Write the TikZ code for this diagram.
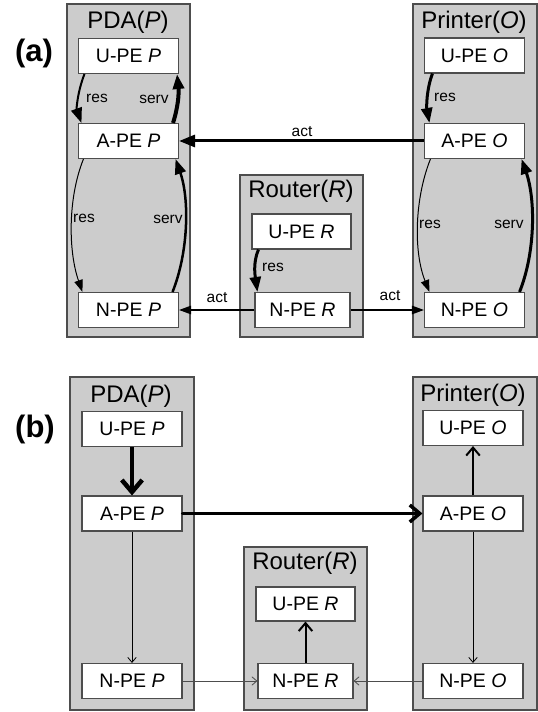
\documentclass[tikz,border=0pt]{standalone}
\usepackage{fontspec}
\setmainfont{Liberation Sans}
\usetikzlibrary{arrows.meta}
\definecolor{boxgray}{RGB}{204,204,204}
\definecolor{edgegray}{RGB}{77,77,77}
\begin{document}
\begin{tikzpicture}[x=1pt,y=1pt,
  container/.style={draw=edgegray, fill=boxgray, line width=1.3pt, inner sep=0pt, rectangle},
  pe/.style={draw=edgegray, fill=white, line width=1.1pt, minimum width=100pt, minimum height=35pt, inner sep=0pt, font=\fontsize{19.5}{22}\selectfont},
  ttl/.style={font=\fontsize{24}{28}\selectfont, inner sep=0pt},
  lbl/.style={font=\fontsize{15.5}{18}\selectfont, inner sep=0pt},
  panel/.style={font=\fontsize{31}{36}\selectfont\bfseries, inner sep=0pt},
  bigtri/.style={-{Triangle[length=15pt,width=11pt]}},
  smalltri/.style={-{Triangle[length=12pt,width=8.5pt]}},
  barb/.style={-{Straight Barb[length=#1,width=1.7*#1]}}
]
\useasboundingbox (0,0) rectangle (538,712);

% ---------------- panel (a) ----------------
\node[panel] (la) at (34,659) {(a)};
\node[container, minimum width=123pt, minimum height=333pt] (PDAa) at (128.5,541.5) {};
\node[container, minimum width=124pt, minimum height=333pt] (PRNa) at (475,541.5) {};
\node[container, minimum width=123pt, minimum height=162pt] (RTRa) at (301.5,456) {};

\node[ttl] (tPDAa) at (128,690) {PDA(\textit{P})};
\node[ttl] (tPRNa) at (474,690) {Printer(\textit{O})};
\node[ttl] (tRTRa) at (301,521) {Router(\textit{R})};

\node[pe] (UPa) at (128.5,656) {U-PE \textit{P}};
\node[pe] (APa) at (128.5,571) {A-PE \textit{P}};
\node[pe] (NPa) at (128.5,402) {N-PE \textit{P}};
\node[pe] (UOa) at (474.5,656.5) {U-PE \textit{O}};
\node[pe] (AOa) at (474.5,571) {A-PE \textit{O}};
\node[pe] (NOa) at (474.5,402) {N-PE \textit{O}};
\node[pe, minimum width=99pt] (URa) at (301.5,480.5) {U-PE \textit{R}};
\node[pe, minimum width=95pt] (NRa) at (302.5,402) {N-PE \textit{R}};

% PDA internal
\draw[line width=2pt, bigtri] ([xshift=6.5pt]UPa.south west) .. controls +(-7,-18) and +(-5,14) .. ([xshift=3.5pt]APa.north west);
\draw[line width=4pt, bigtri] ([xshift=-6pt]APa.north east) .. controls +(5,16) and +(2,-20) .. ([xshift=-2pt]UPa.south east);
\draw[line width=1pt, smalltri] ([xshift=5.5pt]APa.south west) .. controls +(-16,-40) and +(-14,40) .. ([xshift=4.5pt]NPa.north west);
\draw[line width=2.5pt, bigtri] ([xshift=-6.5pt]NPa.north east) .. controls +(16,40) and +(14,-40) .. ([xshift=-3.5pt]APa.south east);
\node[lbl] (r1) at (97,614) {res};
\node[lbl] (s1) at (154,613) {serv};
\node[lbl] (r2) at (84,494) {res};
\node[lbl] (s2) at (168,493) {serv};

% Printer internal
\draw[line width=3pt, bigtri] ([xshift=8.5pt]UOa.south west) .. controls +(-6,-16) and +(-3,16) .. ([xshift=5.5pt]AOa.north west);
\draw[line width=1pt, smalltri] ([xshift=6.5pt]AOa.south west) .. controls +(-16,-40) and +(-16,40) .. ([xshift=5.5pt]NOa.north west);
\draw[line width=3pt, bigtri] ([xshift=-5.5pt]NOa.north east) .. controls +(16,40) and +(14,-40) .. ([xshift=-3.5pt]AOa.south east);
\node[lbl] (r3) at (445,615) {res};
\node[lbl] (r4) at (430,488) {res};
\node[lbl] (s3) at (509,488) {serv};

% Router internal
\draw[line width=3pt, bigtri] ([xshift=7pt]URa.south west) .. controls +(-6,-14) and +(-2,14) .. ([xshift=3pt]NRa.north west);
\node[lbl] (r5) at (273,445) {res};

% between devices
\draw[line width=3pt, -{Triangle[length=16pt,width=12pt]}] (AOa.west) -- (APa.east);
\node[lbl] (a1) at (302,580) {act};
\draw[line width=1.2pt, smalltri] (NRa.west) -- (NPa.east);
\node[lbl] (a2) at (217,414) {act};
\draw[line width=1.2pt, smalltri] (NRa.east) -- (NOa.west);
\node[lbl] (a3) at (390,416) {act};

% ---------------- panel (b) ----------------
\node[panel] (lb) at (35,283) {(b)};
\node[container, minimum width=124pt, minimum height=333pt] (PDAb) at (132,168.5) {};
\node[container, minimum width=124pt, minimum height=333pt] (PRNb) at (475,168.5) {};
\node[container, minimum width=123pt, minimum height=163pt] (RTRb) at (305.5,83.5) {};

\node[ttl] (tPDAb) at (131,316) {PDA(\textit{P})};
\node[ttl] (tPRNb) at (473,317) {Printer(\textit{O})};
\node[ttl] (tRTRb) at (305,149) {Router(\textit{R})};

\node[pe] (UPb) at (132,283) {U-PE \textit{P}};
\node[pe] (APb) at (132,198.5) {A-PE \textit{P}};
\node[pe] (NPb) at (132,31) {N-PE \textit{P}};
\node[pe] (UOb) at (473,284) {U-PE \textit{O}};
\node[pe] (AOb) at (473,198.5) {A-PE \textit{O}};
\node[pe] (NOb) at (473,31) {N-PE \textit{O}};
\node[pe, minimum width=99pt, minimum height=34pt] (URb) at (305.5,108) {U-PE \textit{R}};
\node[pe, minimum width=95pt] (NRb) at (305.5,31) {N-PE \textit{R}};

\draw[line width=4.5pt, barb=12pt] (UPb) -- (APb);
\draw[line width=3.5pt, line cap=round, barb=10pt] (APb.east) -- (AOb.west);
\draw[line width=0.8pt, barb=5pt] (APb) -- (NPb);
\draw[line width=0.8pt, barb=5pt] (AOb) -- (NOb);
\draw[line width=0.8pt, draw=edgegray, barb=5pt] (NPb) -- (NRb);
\draw[line width=0.8pt, draw=edgegray, barb=5pt] (NOb) -- (NRb);
\draw[line width=2pt, barb=8pt] (AOb) -- (UOb);
\draw[line width=2pt, barb=8pt] (NRb) -- (URb);
\end{tikzpicture}
\end{document}
